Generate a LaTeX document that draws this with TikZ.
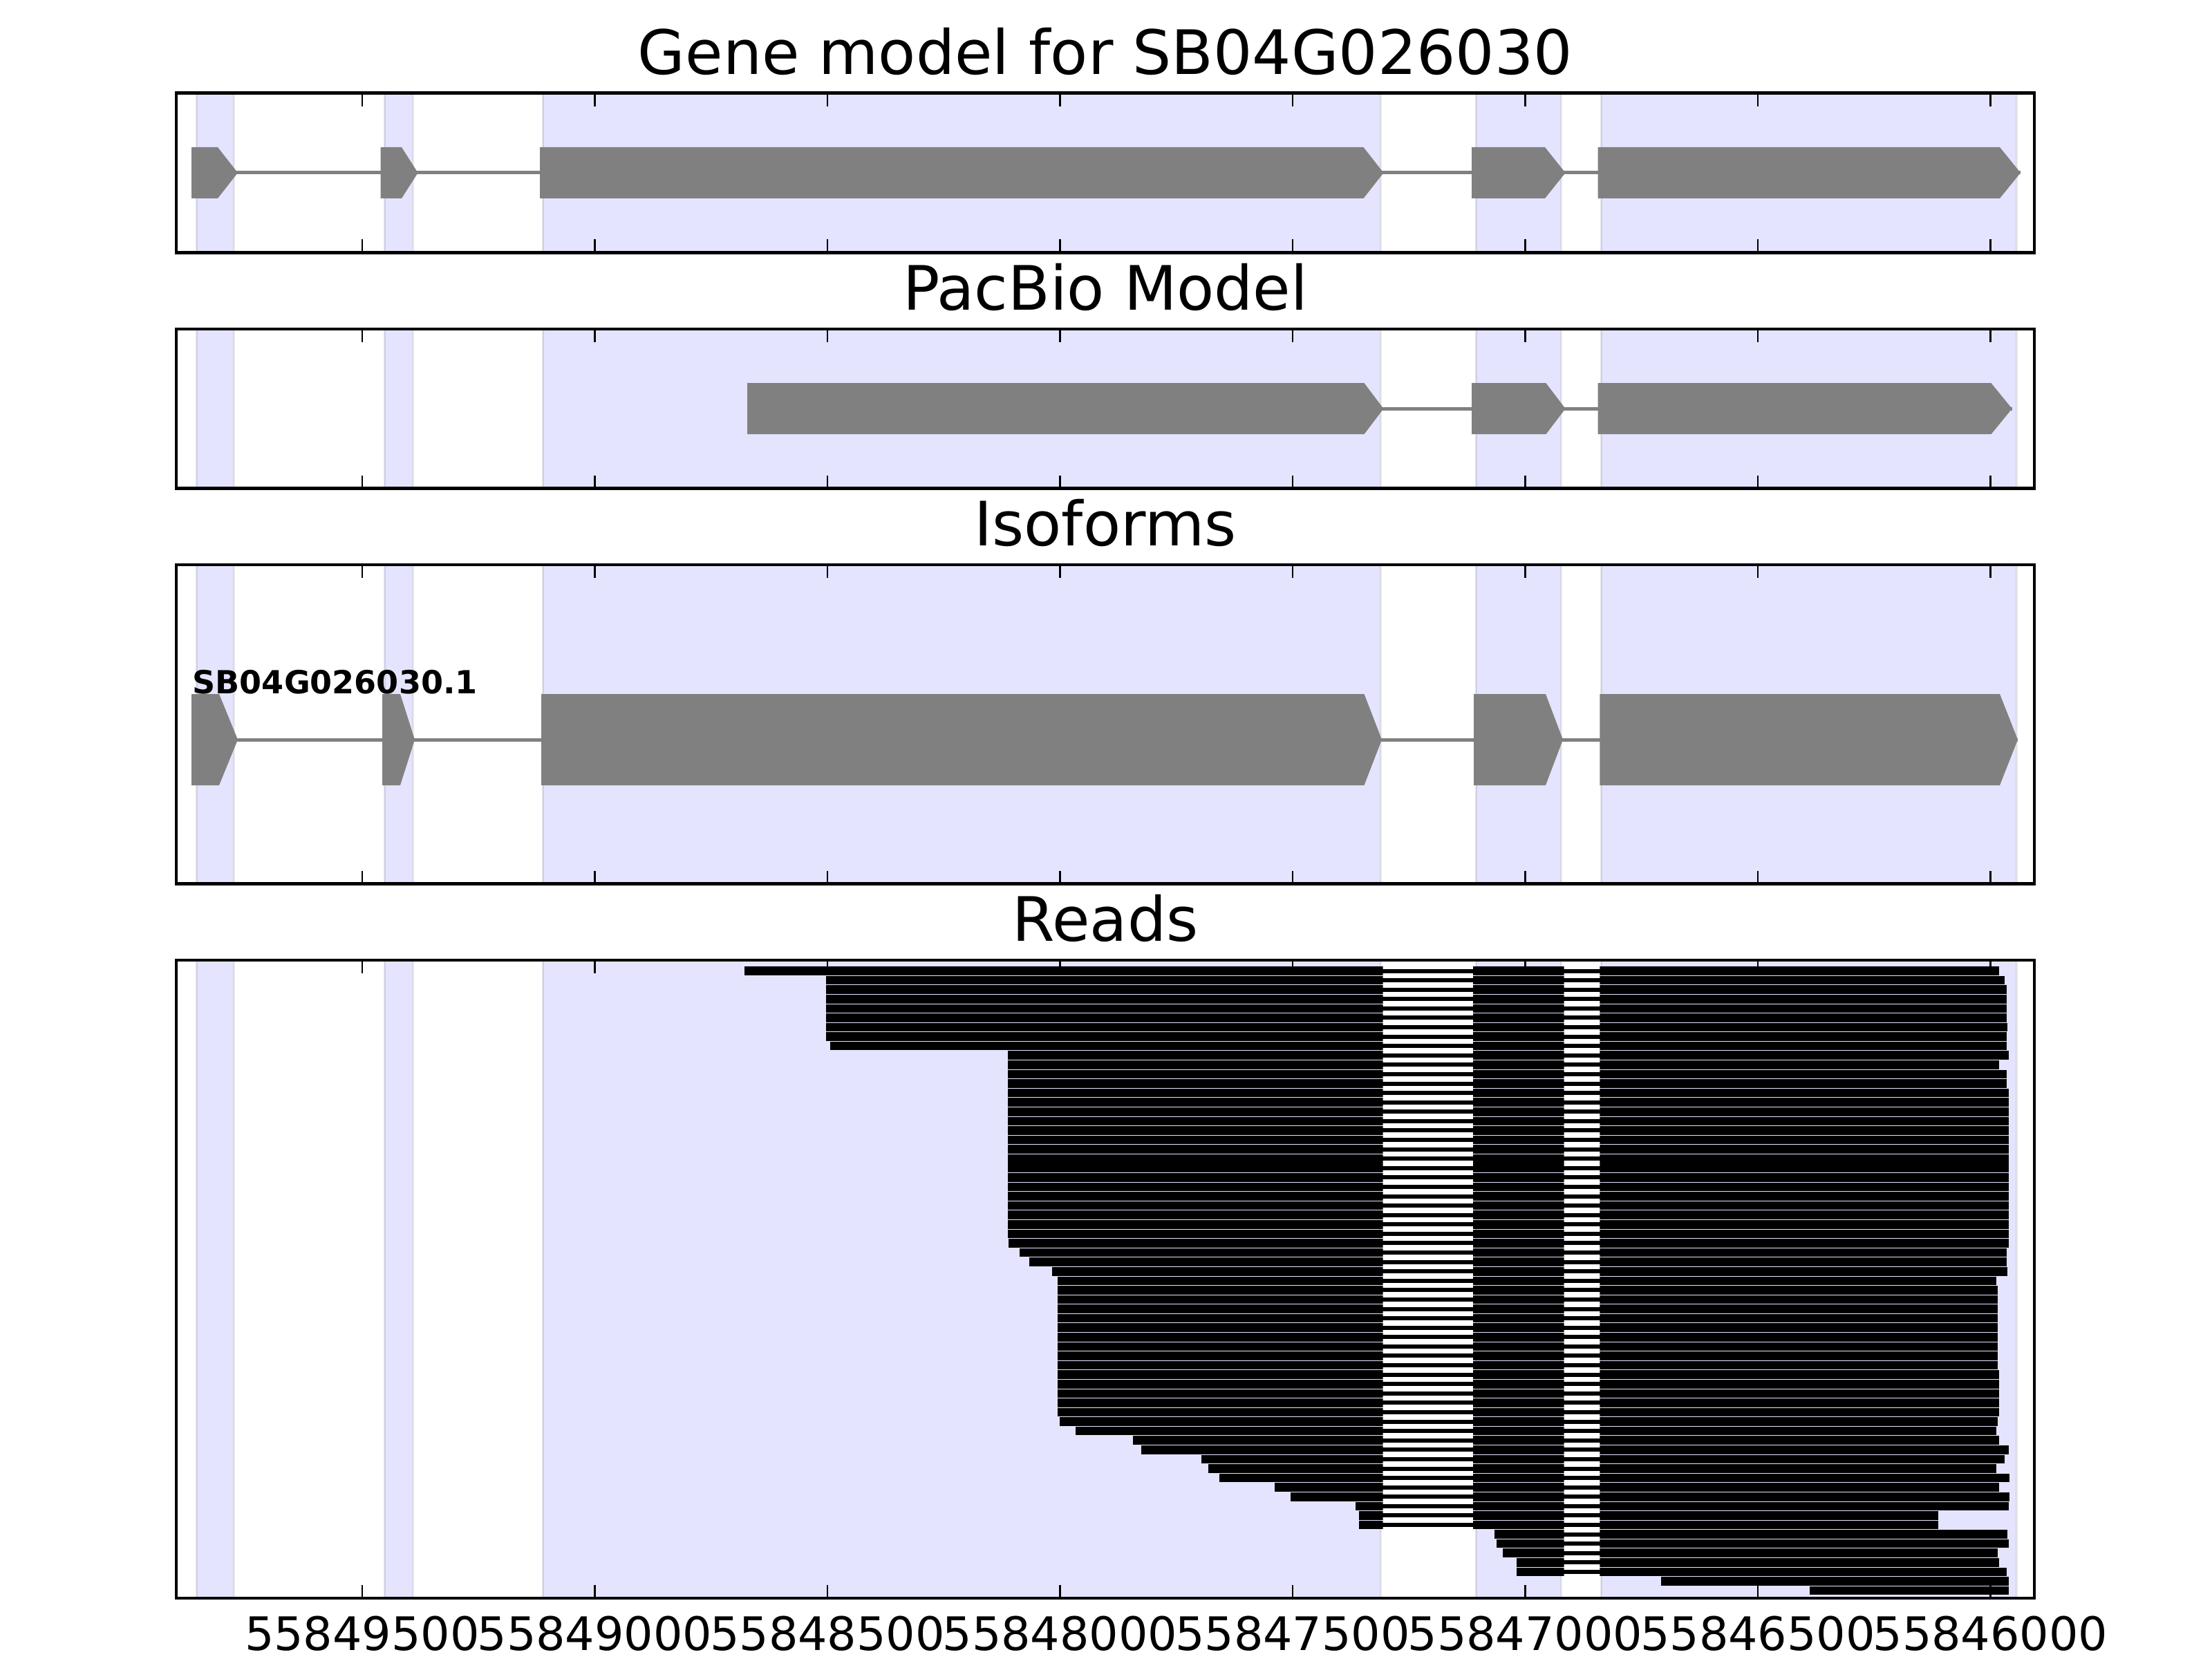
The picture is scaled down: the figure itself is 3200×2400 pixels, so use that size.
\documentclass[tikz,border=0pt]{standalone}
\usepackage{fontspec}
\setmainfont{DejaVu Sans}
\usepackage{tikz}
\tikzstyle{band}=[fill=blue, fill opacity=0.105, draw=black, draw opacity=0.09, line width=0.3mm]
\tikzstyle{exon}=[fill=gray]
\tikzstyle{intron}=[draw=gray, line width=0.5mm]
\tikzstyle{readbar}=[draw=black, line width=1.26mm]
\tikzstyle{readgap}=[draw=black, line width=0.6mm]
\tikzstyle{axisframe}=[draw=black, line width=0.45mm]
\tikzstyle{axistick}=[draw=black, line width=0.28mm]
\tikzstyle{paneltitle}=[font=\fontsize{25.2}{30}\selectfont, anchor=base, inner sep=0pt]
\tikzstyle{ticklabel}=[font=\fontsize{19}{23}\selectfont, anchor=base, inner sep=0pt]
\tikzstyle{isolabel}=[font=\fontsize{13.1}{15}\selectfont\bfseries, anchor=base west, inner sep=0pt]

% read start/end, top to bottom
\def\readlist{1077/2892, 1195/2900, 1195/2903, 1195/2903, 1195/2903, 1195/2903,
  1195/2904, 1195/2903, 1201/2903, 1458/2906, 1458/2892, 1458/2903, 1458/2903,
  1458/2906, 1458/2906, 1458/2906, 1458/2906, 1458/2906, 1458/2906, 1458/2906,
  1458/2906, 1458/2906, 1458/2906, 1458/2906, 1458/2906, 1458/2906, 1458/2906,
  1458/2906, 1458/2906, 1459/2906, 1475/2903, 1489/2903, 1522/2904, 1530/2887.5,
  1530/2890, 1530/2890, 1530/2890, 1530/2890, 1530/2890, 1530/2890, 1530/2890,
  1530/2890, 1530/2890, 1530/2892, 1530/2892, 1530/2892, 1530/2892, 1530/2892,
  1533/2890, 1556/2887.5, 1639/2892, 1651/2906, 1738/2900, 1748/2887.5,
  1764/2907, 1844/2892, 1867/2907, 1961/2906, 1966/2804, 1966/2804,
  2162/2904, 2165/2906, 2174/2890, 2194/2892, 2194/2903, 2403/2906, 2618/2906}

\begin{document}
\begin{tikzpicture}[x=0.1mm, y=-0.1mm]
	\useasboundingbox (0,0) rectangle (3200,2400);
	% shaded exon regions in every panel
	\begin{scope}
		\foreach \top/\bot in {134.7/365.4, 475.9/706.6, 817.1/1278.5, 1389/2311.8}
			\foreach \a/\b in {284/338, 556/597, 785/1997, 2135/2258, 2316/2917}
				\path[band] (\a,\top) rectangle (\b,\bot);
	\end{scope}
	% gene model
	\begin{scope}
		\draw[intron] (277,250) -- (2923,250);
		\foreach \a/\b/\c in {277/315/344, 550.5/581/604.6, 781/1972.5/2001.5, 2129/2235/2264.6, 2311.6/2893/2923}
			\fill[exon] (\a,213) -- (\b,213) -- (\c,250) -- (\b,287) -- (\a,287) -- cycle;
	\end{scope}
	% pacbio model
	\begin{scope}
		\draw[intron] (1081,591.2) -- (2910.7,591.2);
		\foreach \a/\b/\c in {1081/1973.5/2001.5, 2129/2236.5/2264.6, 2311.6/2880.5/2910.7}
			\fill[exon] (\a,554.2) -- (\b,554.2) -- (\c,591.2) -- (\b,628.2) -- (\a,628.2) -- cycle;
	\end{scope}
	% isoforms
	\begin{scope}
		\draw[intron] (277,1070) -- (2919,1070);
		\foreach \a/\b/\c in {277/317/344, 553/579/600, 783/1973.5/1999, 2132/2236/2261, 2314.4/2893/2919}
			\fill[exon] (\a,1004) -- (\b,1004) -- (\c,1070) -- (\b,1136) -- (\a,1136) -- cycle;
		\node[isolabel] (iso1) at (278,1003.5) {SB04G026030.1};
	\end{scope}
	% reads
	\begin{scope}
		\foreach \s/\e [count=\i from 0] in \readlist {
			\pgfmathsetmacro\y{1404.5+13.585*\i}
			\draw[readgap] (\s,\y) -- (\e,\y);
		}
		\clip (0,0) rectangle (2000.7,2400) (2131,0) rectangle (2262.7,2400) (2314.3,0) rectangle (3200,2400);
		\foreach \s/\e [count=\i from 0] in \readlist {
			\pgfmathsetmacro\y{1404.5+13.585*\i}
			\draw[readbar] (\s,\y) -- (\e,\y);
		}
	\end{scope}
	% axes
	\begin{scope}
		\foreach \top/\bot in {134.7/365.4, 475.9/706.6, 817.1/1278.5, 1389/2311.8} {
			\foreach \t in {524, 860.5, 1197, 1533.5, 1870, 2206.5, 2543, 2879.5} {
				\draw[axistick] (\t,\top) -- ++(0,19);
				\draw[axistick] (\t,\bot) -- ++(0,-19);
			}
			\draw[axisframe] (255,\top) rectangle (2943,\bot);
		}
		\node[paneltitle] (t1) at (1599,107.3) {Gene model for SB04G026030};
		\node[paneltitle] (t2) at (1599,448.4) {PacBio Model};
		\node[paneltitle] (t3) at (1599,789.6) {Isoforms};
		\node[paneltitle] (t4) at (1599,1361.5) {Reads};
		\foreach \t/\lab in {524/55849500, 860.5/55849000, 1197/55848500, 1533.5/55848000,
			1870/55847500, 2206.5/55847000, 2543/55846500, 2879.5/55846000}
			\node[ticklabel] (x\lab) at (\t,2387) {\lab};
	\end{scope}
\end{tikzpicture}
\end{document}
